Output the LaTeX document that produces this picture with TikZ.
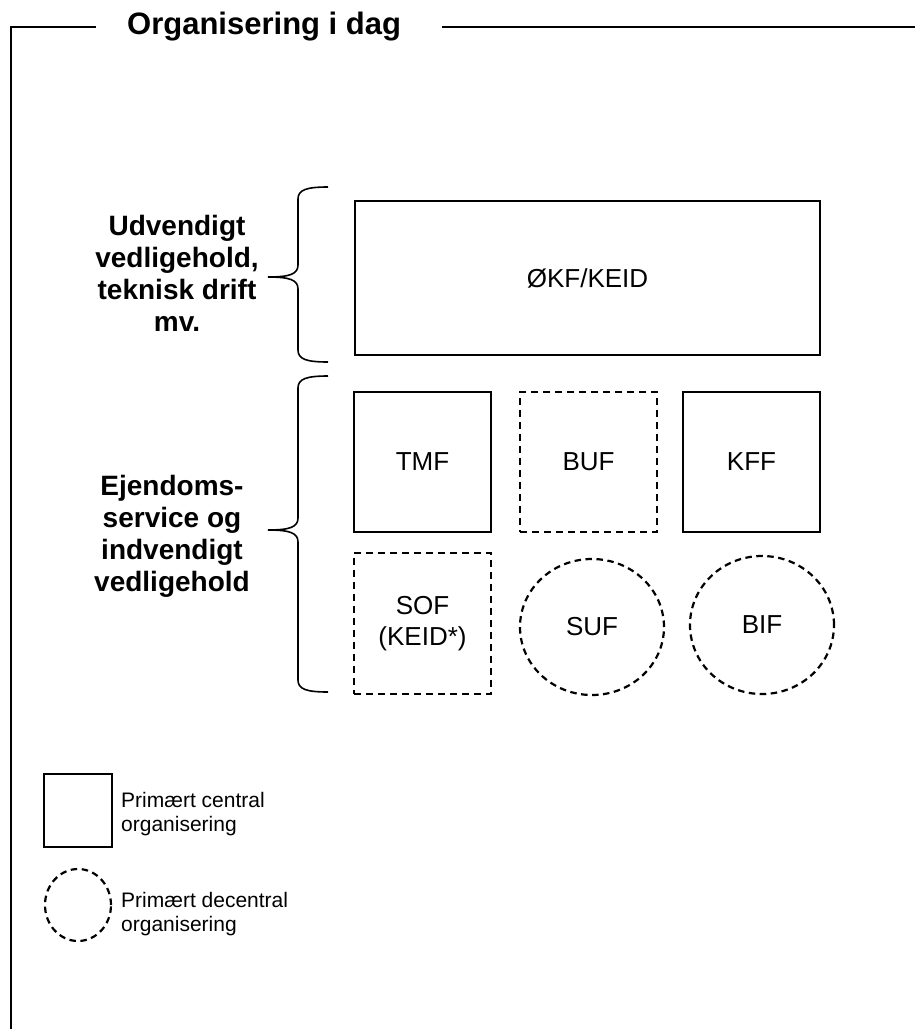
\documentclass[tikz,border=0pt]{standalone}
\usepackage{fontspec}
\setmainfont{Liberation Sans}
\usetikzlibrary{shapes.geometric}
\begin{document}
\begin{tikzpicture}[x=1pt,y=-1pt,
  solidbox/.style={draw, line width=2.5pt, inner sep=0pt, font=\fontsize{26}{31}\selectfont, align=center},
  dashbox/.style={solidbox, line width=2.2pt, dash pattern=on 7pt off 5pt},
  dashcirc/.style={draw, ellipse, line width=2.2pt, inner sep=0pt, dash pattern=on 6.5pt off 4.5pt, font=\fontsize{26}{31}\selectfont},
  grouplabel/.style={anchor=north, inner sep=0pt, align=center, font=\bfseries\fontsize{28}{32}\selectfont},
  legendtext/.style={anchor=north west, inner sep=0pt, align=left, font=\fontsize{21}{24}\selectfont},
  bracepath/.style={line width=1.6pt},
]
\useasboundingbox (0,0) rectangle (915,1029);

% frame and title
\node[anchor=base west, inner sep=0pt, font=\bfseries\fontsize{31}{36}\selectfont] (title) at (127,34) {Organisering i dag};
\coordinate (fl) at (96,27);
\coordinate (fc) at (11,27);
\coordinate (fb) at (11,1029);
\coordinate (fr1) at (442,27);
\coordinate (fr2) at (915,27);
\draw[line width=2.5pt] (fl) -- (fc) -- (fb);
\draw[line width=2.5pt] (fr1) -- (fr2);

% boxes
\node[solidbox, minimum width=465pt, minimum height=154pt] (okf) at (587.5,278) {ØKF/KEID};
\node[solidbox, minimum width=137pt, minimum height=140pt] (tmf) at (422.5,462) {TMF};
\node[dashbox, minimum width=137pt, minimum height=140pt] (buf) at (588.5,462) {BUF};
\node[solidbox, minimum width=137pt, minimum height=140pt] (kff) at (751.5,462) {KFF};
\node[dashbox, minimum width=137pt, minimum height=141pt] (sof) at (422.5,623.5) {SOF\\(KEID*)};
\node[dashcirc, minimum width=144pt, minimum height=136pt] (suf) at (592,627) {SUF};
\node[dashcirc, minimum width=144pt, minimum height=138pt] (bif) at (762,625) {BIF};

% braces
\draw[bracepath] (328,187) .. controls (306,187) and (298,190) .. (298,199)
  -- (298,265) .. controls (298,274) and (290,277) .. (268,277)
  .. controls (290,277) and (298,280) .. (298,289)
  -- (298,350) .. controls (298,359) and (306,362) .. (328,362);
\draw[bracepath] (328,376) .. controls (306,376) and (298,379) .. (298,388)
  -- (298,518) .. controls (298,527) and (290,530) .. (268,530)
  .. controls (290,530) and (298,533) .. (298,542)
  -- (298,680) .. controls (298,689) and (306,692) .. (328,692);

% group labels
\node[grouplabel] (lab1) at (177,215) {Udvendigt\\vedligehold,\\teknisk drift\\mv.};
\node[grouplabel] (lab2) at (172,475) {Ejendoms-\\service og\\indvendigt\\vedligehold};

% legend
\node[solidbox, minimum width=68pt, minimum height=73pt] (legsq) at (78,810.5) {};
\node[dashcirc, minimum width=66pt, minimum height=72pt] (legci) at (78,905) {};
\node[legendtext] (legsqt) at (121,792) {Primært central\\organisering};
\node[legendtext] (legcit) at (121,892) {Primært decentral\\organisering};
\end{tikzpicture}
\end{document}
